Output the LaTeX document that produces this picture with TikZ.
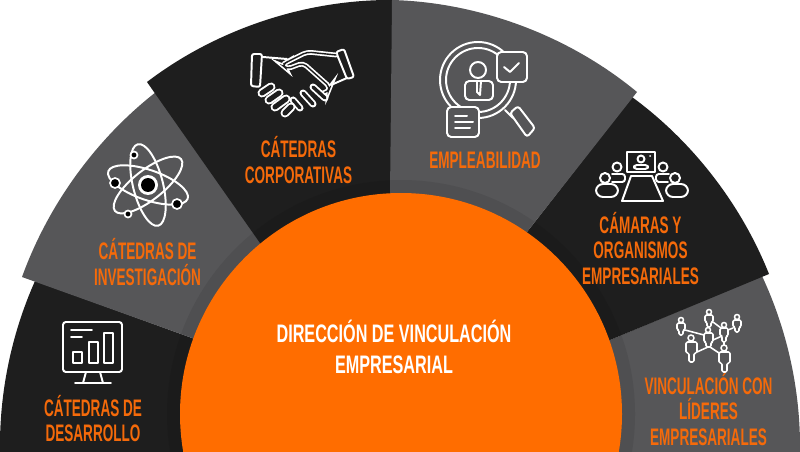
\documentclass[tikz,border=0pt]{standalone}
\usepackage{fontspec}
\setmainfont[FakeStretch=0.567]{Liberation Sans}
\newfontfamily\hubfont[FakeStretch=0.64]{Liberation Sans}
\definecolor{wedgedark}{HTML}{1E1E1E}
\definecolor{wedgegray}{HTML}{565658}
\definecolor{hubcolor}{HTML}{FF6D00}
\definecolor{labelcolor}{HTML}{F56A0A}
\tikzset{
  darkwedge/.style={fill=wedgedark},
  graywedge/.style={fill=wedgegray},
  arcside/.style={bend left=#1,looseness=0.86},
  wedgelabel/.style={text=labelcolor,font=\fontsize{17}{18}\selectfont\bfseries,align=center},
  hublabel/.style={text=white,font=\hubfont\fontsize{18}{22}\selectfont\bfseries,align=center},
  iconline/.style={draw=white,line width=1.4pt,line join=round,line cap=round},
  thinicon/.style={draw=white,line width=1.1pt,line join=round,line cap=round},
  fingerout/.style={white,line width=#1,line cap=round},
  fingerin/.style={wedgedark,line width=#1,line cap=round}
}
\begin{document}
\begin{tikzpicture}[x=0.025cm,y=-0.025cm]
\useasboundingbox (0,0) rectangle (800,452);
\clip (0,0) rectangle (800,452);
% Wedges, the later ones lie over the earlier ones
\fill[darkwedge] (0,452) to[arcside=12.4] (35,281) -- (192,338) -- (401,414) -- (401,452) -- cycle;
\fill[graywedge] (22,277) to[arcside=16] (156,92) -- (265,243) -- (401,414) -- (192,338) -- cycle;
\fill[darkwedge] (147,82) to[arcside=18.8] (392,0) -- (392,195) -- (401,414) -- (260,243) -- cycle;
\fill[graywedge] (762,276) to[arcside=12.9] (800,452) -- (401,452) -- (401,414) -- (610,340) -- cycle;
\fill[darkwedge] (632,97) to[arcside=16] (769,274) -- (610,340) -- (401,414) -- (527,232) -- cycle;
\fill[graywedge] (392,0) to[arcside=19] (637,92) -- (527,232) -- (401,414) -- (390,195) -- cycle;
% Darker band round the hub
\fill[black,opacity=0.08] (401,414) circle (234);
% Hub
\fill[hubcolor] (401,414) circle (221);
\node[hublabel] (hub) at (394,347) {DIRECCIÓN DE VINCULACIÓN\\EMPRESARIAL};
% Labels of the wedges
\node[wedgelabel] (desarrollo) at (93,418.5) {CÁTEDRAS DE\\DESARROLLO};
\node[wedgelabel] (investigacion) at (147.5,262) {CÁTEDRAS DE\\INVESTIGACIÓN};
\node[wedgelabel] (corporativas) at (298.5,160) {CÁTEDRAS\\CORPORATIVAS};
\node[wedgelabel] (empleabilidad) at (485,160) {EMPLEABILIDAD};
\node[wedgelabel] (camaras) at (640.5,248.5) {CÁMARAS Y\\ORGANISMOS\\EMPRESARIALES};
\node[wedgelabel] (lideres) at (708.5,409.5) {VINCULACIÓN CON\\LÍDERES\\EMPRESARIALES};
% Monitor
\draw[iconline,rounded corners=2] (63,322) rectangle (122,372);
\draw[iconline] (86,372) -- (83,383);
\draw[iconline] (100,372) -- (103,383);
\draw[iconline] (75,383) -- (111,383);
\draw[iconline] (71,330) -- (92,330);
\draw[iconline] (71,337) -- (82,337);
\draw[iconline] (73,352) rectangle (82,363);
\draw[iconline] (89,342) rectangle (98,363);
\draw[iconline] (104,333) rectangle (113,363);
% Atom
\draw[iconline] (148,185) ellipse[x radius=42,y radius=15,rotate=-19];
\draw[iconline] (148,185) ellipse[x radius=42,y radius=15,rotate=38];
\draw[iconline] (148,185) ellipse[x radius=42,y radius=15,rotate=-76];
\fill[white] (148,185) circle (10);
\fill[black] (148,185) circle (7);
\filldraw[black,draw=white,line width=1.2pt] (134,155) circle (3.5);
\filldraw[black,draw=white,line width=1.2pt] (115,183) circle (5);
\filldraw[black,draw=white,line width=1.2pt] (177,204) circle (5);
\filldraw[black,draw=white,line width=1.2pt] (128,214) circle (3.5);
% Handshake
\draw[iconline,rounded corners=1.5] (252,54) -- (262,54) -- (260,87) -- (251,86) -- cycle;
\draw[iconline,rounded corners=1.5] (336,52) -- (344,49) -- (354,77) -- (347,79) -- cycle;
\draw[iconline] (263,57) -- (287,59);
\draw[fingerout=3.4pt,rounded corners=3] (336,55) -- (307,52) -- (287,62) -- (282,65) -- (287,69) -- (303,63) -- (330,87) -- (328,92) -- (323,93);
\draw[fingerin=1pt,rounded corners=3] (336,55) -- (307,52) -- (287,62) -- (282,65) -- (287,69) -- (303,63) -- (330,87) -- (328,92) -- (323,93);
\draw[iconline] (331,85) -- (347,78);
\draw[fingerout=5pt] (293,100) -- (300,108);
\draw[fingerout=5pt] (303,93) -- (313,104);
\draw[fingerout=5pt] (313,87) -- (325,98);
\draw[fingerin=2.4pt] (293,100) -- (300,108);
\draw[fingerin=2.4pt] (303,93) -- (313,104);
\draw[fingerin=2.4pt] (313,87) -- (325,98);
\draw[fingerout=6.4pt] (262,93) -- (271,87);
\draw[fingerout=6.4pt] (269,100) -- (279,93);
\draw[fingerout=6.4pt] (275,107) -- (286,99);
\draw[fingerout=6.4pt] (285,113) -- (291,107);
\draw[fingerin=3.6pt] (262,93) -- (271,87);
\draw[fingerin=3.6pt] (269,100) -- (279,93);
\draw[fingerin=3.6pt] (275,107) -- (286,99);
\draw[fingerin=3.6pt] (285,113) -- (291,107);
% Magnifying glass with person, check box and sheet
\draw[iconline] (478,80) circle (38);
\draw[iconline] (478,80) circle (32);
\draw[iconline] (478,70) circle (8);
\draw[iconline,rounded corners=3] (465,81) rectangle (493,100);
\draw[iconline] (477,81) -- (477,92) -- (480,95) -- (481,81);
\draw[iconline] (505,110) -- (513,118);
\draw[iconline,rounded corners=2] (510,113) -- (518,106) -- (535,128) -- (527,137) -- cycle;
\draw[iconline,fill=wedgegray,rounded corners=3] (497,52) rectangle (527,82);
\draw[iconline] (504,67) -- (510,72) -- (519,63);
\draw[iconline,fill=wedgegray,rounded corners=3] (447,107) rectangle (479,137);
\draw[iconline] (455,116) -- (467,116);
\draw[iconline] (455,122) -- (473,122);
\draw[iconline] (455,128) -- (470,128);
% Meeting room
\draw[iconline] (627,152) rectangle (655,172);
\draw[iconline] (641,159) circle (3.5);
\draw[iconline,rounded corners=2] (634,169) -- (634,165) -- (648,165) -- (648,169) -- cycle;
\fill[white] (650,156) circle (1);
\draw[iconline] (631,176) -- (652,176) -- (663,201) -- (622,201) -- cycle;
\draw[iconline] (605,178) circle (5);
\draw[iconline,rounded corners=5] (596,197) -- (596,184) -- (618,184) -- (618,197) -- cycle;
\draw[iconline] (617,167) circle (4.5);
\draw[iconline,rounded corners=2] (612,174) -- (625,174) -- (625,182) -- (612,182);
\draw[iconline] (675,178) circle (5);
\draw[iconline,rounded corners=5] (666,197) -- (666,184) -- (688,184) -- (688,197) -- cycle;
\draw[iconline] (663,167) circle (4.5);
\draw[iconline,rounded corners=2] (669,174) -- (656,174) -- (656,182) -- (668,182);
% Network of people
\draw[thinicon] (685,330) -- (704,335);
\draw[thinicon] (713,322) -- (721,328);
\draw[thinicon] (728,330) -- (733,328);
\draw[thinicon] (713,340) -- (722,336);
\draw[thinicon] (697,352) -- (708,347);
\draw[thinicon] (710,347) -- (719,353);
\draw[thinicon] (724,342) -- (724,345);
\draw[thinicon] (681,320) circle (2.5);
\draw[thinicon,rounded corners=1] (677,323) -- (685,323) -- (685,330) -- (683,330) -- (683,335) -- (679,335) -- (679,330) -- (677,330) -- cycle;
\draw[thinicon] (709,312) circle (2.5);
\draw[thinicon,rounded corners=1] (705,315) -- (713,315) -- (713,322) -- (711,322) -- (711,327) -- (707,327) -- (707,322) -- (705,322) -- cycle;
\draw[thinicon] (737,317) circle (2.5);
\draw[thinicon,rounded corners=1] (733,320) -- (741,320) -- (741,327) -- (739,327) -- (739,332) -- (735,332) -- (735,327) -- (733,327) -- cycle;
\draw[thinicon] (724,325) circle (2.5);
\draw[thinicon,rounded corners=1] (720,328) -- (728,328) -- (728,336) -- (726,336) -- (726,342) -- (722,342) -- (722,336) -- (720,336) -- cycle;
\draw[thinicon] (708,330) circle (2.5);
\draw[thinicon,rounded corners=1] (704,333) -- (713,333) -- (713,342) -- (711,342) -- (711,347) -- (706,347) -- (706,342) -- (704,342) -- cycle;
\draw[thinicon] (691,338) circle (3);
\draw[thinicon,rounded corners=1] (686,342) -- (697,342) -- (697,353) -- (694,353) -- (694,362) -- (689,362) -- (689,353) -- (686,353) -- cycle;
\draw[thinicon] (724,348) circle (3);
\draw[thinicon,rounded corners=1] (719,352) -- (730,352) -- (730,363) -- (727,363) -- (727,372) -- (722,372) -- (722,363) -- (719,363) -- cycle;
\end{tikzpicture}
\end{document}
